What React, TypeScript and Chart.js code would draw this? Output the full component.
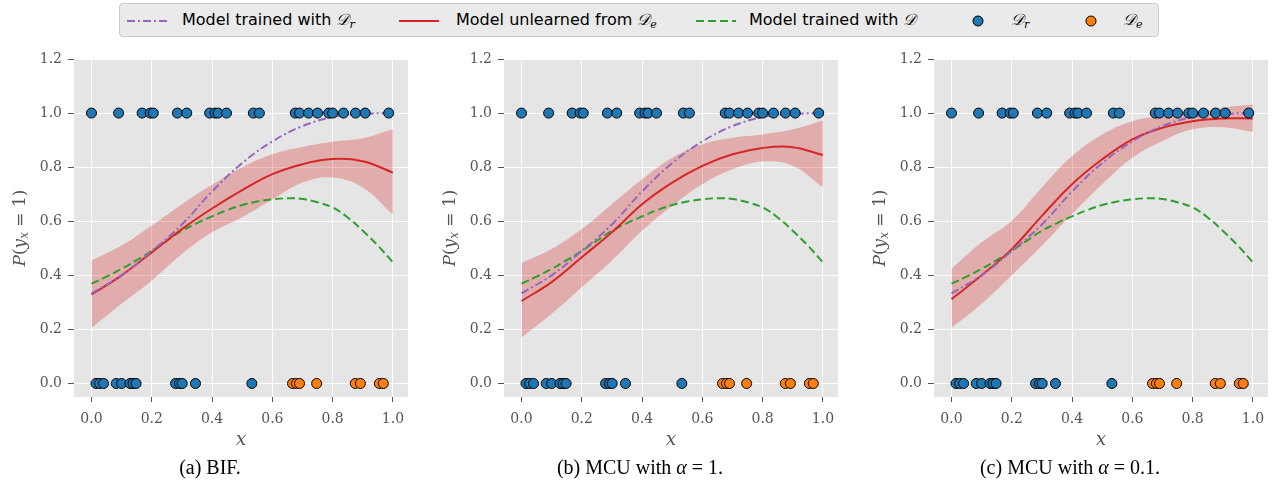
import React, { useEffect, useRef } from "react";
import { Chart, registerables } from "chart.js";

Chart.register(...registerables);

// ---- data ----
const xGrid = [0, 0.1, 0.2, 0.3, 0.4, 0.5, 0.6, 0.7, 0.8, 0.9, 1.0];
const xGridFine = [0, 0.05, 0.1, 0.15, 0.2, 0.25, 0.3, 0.35, 0.4, 0.45, 0.5, 0.55, 0.6, 0.65, 0.7, 0.75, 0.8, 0.85, 0.9, 0.95, 1.0];
const trainedDr = [0.333, 0.4, 0.49, 0.588, 0.71, 0.815, 0.895, 0.952, 0.985, 0.997, 1.0];
const trainedD = [0.369, 0.395, 0.424, 0.456, 0.49, 0.528, 0.565, 0.593, 0.618, 0.641, 0.66, 0.673, 0.681, 0.685, 0.682, 0.67, 0.651, 0.614, 0.565, 0.51, 0.448];

const unlearnBIF = [0.329, 0.4, 0.485, 0.571, 0.647, 0.715, 0.774, 0.811, 0.83, 0.822, 0.78];
const upperBIF = [0.455, 0.51, 0.584, 0.663, 0.735, 0.8, 0.848, 0.875, 0.894, 0.907, 0.94];
const lowerBIF = [0.206, 0.295, 0.381, 0.479, 0.559, 0.615, 0.68, 0.743, 0.762, 0.725, 0.624];

const unlearnMCU1 = [0.305, 0.375, 0.467, 0.559, 0.663, 0.743, 0.805, 0.848, 0.871, 0.874, 0.845];
const upperMCU1 = [0.445, 0.497, 0.571, 0.663, 0.755, 0.835, 0.885, 0.909, 0.921, 0.94, 0.973];
const lowerMCU1 = [0.17, 0.258, 0.356, 0.455, 0.565, 0.657, 0.737, 0.792, 0.821, 0.805, 0.725];

const unlearnMCU01 = [0.312, 0.4, 0.497, 0.62, 0.737, 0.829, 0.903, 0.946, 0.97, 0.98, 0.98];
const upperMCU01 = [0.424, 0.522, 0.602, 0.725, 0.841, 0.921, 0.97, 0.989, 1.001, 1.02, 1.032];
const lowerMCU01 = [0.206, 0.295, 0.4, 0.51, 0.627, 0.737, 0.835, 0.897, 0.94, 0.948, 0.931];

const drOnesX = [0.0, 0.09, 0.168, 0.195, 0.205, 0.285, 0.316, 0.392, 0.41, 0.42, 0.448, 0.537, 0.557, 0.676, 0.69, 0.72, 0.75, 0.787, 0.8, 0.836, 0.876, 0.908, 0.986];
const drZerosX = [0.015, 0.027, 0.04, 0.082, 0.1, 0.128, 0.138, 0.148, 0.279, 0.292, 0.301, 0.345, 0.532];
const deZerosX = [0.667, 0.68, 0.69, 0.747, 0.875, 0.892, 0.955, 0.968];

const xTicks = [0, 0.2, 0.4, 0.6, 0.8, 1.0];
const yTicks = [0, 0.2, 0.4, 0.6, 0.8, 1.0, 1.2];

const captions = ["(a) BIF.", "(b) MCU with ", "(c) MCU with "];
const alphaValues = ["", "1", "0.1"];

const panels = [
  { unlearn: unlearnBIF, upper: upperBIF, lower: lowerBIF },
  { unlearn: unlearnMCU1, upper: upperMCU1, lower: lowerMCU1 },
  { unlearn: unlearnMCU01, upper: upperMCU01, lower: lowerMCU01 },
];

const PURPLE = "#9467bd";
const RED = "#d62728";
const GREEN = "#2ca02c";
const BLUE = "#1f77b4";
const ORANGE = "#ff7f0e";

const pts = (xs: number[], ys: number[]) => xs.map((x, i) => ({ x, y: ys[i] }));
const constPts = (xs: number[], y: number) => xs.map((x) => ({ x, y }));

const bgPlugin = {
  id: "bgArea",
  beforeDraw(chart: any) {
    const { ctx, chartArea } = chart;
    ctx.save();
    ctx.fillStyle = "#e5e5e5";
    ctx.fillRect(chartArea.left, chartArea.top, chartArea.right - chartArea.left, chartArea.bottom - chartArea.top);
    ctx.restore();
  },
};

// y-axis label "P(y_x = 1)" with mixed italic / upright pieces
const yLabelPieces = [
  { t: "P", it: true, sub: false },
  { t: "(", it: false, sub: false },
  { t: "y", it: true, sub: false },
  { t: "x", it: true, sub: true },
  { t: " = ", it: false, sub: false },
  { t: "1", it: false, sub: false },
  { t: ")", it: false, sub: false },
];

const yLabelPlugin = {
  id: "yLabel",
  afterDraw(chart: any) {
    const { ctx, chartArea } = chart;
    const fontFor = (p: any) => `${p.it ? "italic " : ""}${p.sub ? 12 : 17}px "DejaVu Serif"`;
    ctx.save();
    let total = 0;
    const widths = yLabelPieces.map((p) => {
      ctx.font = fontFor(p);
      const w = ctx.measureText(p.t).width;
      total += w;
      return w;
    });
    const cy = (chartArea.top + chartArea.bottom) / 2;
    ctx.translate(20, cy);
    ctx.rotate(-Math.PI / 2);
    ctx.fillStyle = "#555555";
    ctx.textBaseline = "alphabetic";
    ctx.textAlign = "left";
    let x = -total / 2;
    yLabelPieces.forEach((p, i) => {
      ctx.font = fontFor(p);
      ctx.fillText(p.t, x, p.sub ? 8 : 5);
      x += widths[i];
    });
    ctx.restore();
  },
};

const CW = 414;
const CH = 420;

function Panel({ idx }: { idx: number }) {
  const ref = useRef<HTMLCanvasElement>(null);
  useEffect(() => {
    const p = panels[idx];
    const lineBase = { showLine: true, pointRadius: 0, tension: 0.4, fill: false };
    const pointBase = { pointRadius: 5, pointBorderColor: "#000", pointBorderWidth: 1 };
    const chart = new Chart(ref.current!, {
      type: "scatter",
      data: {
        datasets: [
          {
            data: pts(xGrid, p.upper),
            ...lineBase,
            borderWidth: 0,
            borderColor: "rgba(0,0,0,0)",
            order: 10,
          },
          {
            data: pts(xGrid, p.lower),
            ...lineBase,
            borderWidth: 0,
            borderColor: "rgba(0,0,0,0)",
            backgroundColor: "rgba(214,39,40,0.3)",
            fill: "-1",
            order: 9,
          },
          { data: pts(xGridFine, trainedD), ...lineBase, borderColor: GREEN, borderWidth: 2, borderDash: [8, 4], order: 5 },
          { data: pts(xGrid, p.unlearn), ...lineBase, borderColor: RED, borderWidth: 2, order: 4 },
          { data: pts(xGrid, trainedDr), ...lineBase, borderColor: PURPLE, borderWidth: 2, borderDash: [8, 3, 2, 3], order: 3 },
          { data: constPts(drOnesX, 1), ...pointBase, pointBackgroundColor: BLUE, order: 1 },
          { data: constPts(drZerosX, 0), ...pointBase, pointBackgroundColor: BLUE, order: 1 },
          { data: constPts(deZerosX, 0), ...pointBase, pointBackgroundColor: ORANGE, order: 0 },
        ],
      },
      options: {
        animation: false,
        responsive: false,
        devicePixelRatio: 1,
        layout: { padding: { left: 0, right: CW - 408, top: 19, bottom: 0 } },
        plugins: { legend: { display: false }, tooltip: { enabled: false } },
        scales: {
          x: {
            type: "linear",
            min: -0.058,
            max: 1.05,
            afterBuildTicks: (s: any) => {
              s.ticks = xTicks.map((v) => ({ value: v }));
            },
            afterFit: (s: any) => {
              s.height = CH - 357;
            },
            grid: { color: "#ffffff", lineWidth: 1, tickColor: "#555555", tickLength: 5, drawTicks: true },
            border: { display: false },
            ticks: {
              padding: 9,
              color: "#555555",
              font: { family: "DejaVu Serif", size: 14 },
              callback: (v: any) => Number(v).toFixed(1),
              maxRotation: 0,
            },
            title: {
              display: true,
              text: "x",
              color: "#555555",
              font: { family: "DejaVu Serif", size: 18, style: "italic" },
              padding: { top: 0, bottom: 9 },
            },
          },
          y: {
            type: "linear",
            min: -0.05,
            max: 1.2,
            afterBuildTicks: (s: any) => {
              s.ticks = yTicks.map((v) => ({ value: v }));
            },
            afterFit: (s: any) => {
              s.width = 74;
            },
            grid: { color: "#ffffff", lineWidth: 1, tickColor: "#555555", tickLength: 6, drawTicks: true },
            border: { display: false },
            ticks: {
              padding: 6,
              color: "#555555",
              font: { family: "DejaVu Serif", size: 14 },
              callback: (v: any) => Number(v).toFixed(1),
            },
            title: { display: false },
          },
        },
      },
      plugins: [bgPlugin, yLabelPlugin],
    });
    return () => chart.destroy();
  }, [idx]);
  return (
    <canvas
      ref={ref}
      width={CW}
      height={CH}
      style={{ position: "absolute", left: idx * 430, top: 40, width: CW, height: CH }}
    />
  );
}

function LegendLine({ color, dash }: { color: string; dash?: string }) {
  return (
    <svg width={40} height={10} style={{ position: "absolute", top: 12 }}>
      <line x1={0} y1={5} x2={40} y2={5} stroke={color} strokeWidth={2} strokeDasharray={dash} />
    </svg>
  );
}

function LegendDot({ color }: { color: string }) {
  return (
    <svg width={12} height={12} style={{ position: "absolute", top: 11 }}>
      <circle cx={6} cy={6} r={5} fill={color} stroke="#000" strokeWidth={1} />
    </svg>
  );
}

const D = () => <span style={{ fontFamily: "DejaVu Serif", fontStyle: "italic" }}>𝒟</span>;
const Sub = ({ t }: { t: string }) => (
  <sub style={{ fontFamily: "DejaVu Serif", fontStyle: "italic", fontSize: 11, verticalAlign: "-3px" }}>{t}</sub>
);

export default function App() {
  const legendFont: React.CSSProperties = {
    position: "absolute",
    top: 6,
    fontFamily: "DejaVu Sans",
    fontSize: 16,
    color: "#000",
    whiteSpace: "nowrap",
    lineHeight: "20px",
  };
  return (
    <div style={{ position: "absolute", left: 0, top: 0, width: 1274, height: 487, background: "#fff" }}>
      <div
        style={{
          position: "absolute",
          left: 119,
          top: 3,
          width: 1038,
          height: 32,
          background: "#eaeaea",
          border: "1px solid #cccccc",
          borderRadius: 4,
        }}
      >
        <div style={{ position: "absolute", left: 7 }}>
          <LegendLine color={PURPLE} dash="8 3 2 3" />
        </div>
        <div style={{ ...legendFont, left: 62 }}>
          Model trained with <D />
          <Sub t="r" />
        </div>
        <div style={{ position: "absolute", left: 279 }}>
          <LegendLine color={RED} />
        </div>
        <div style={{ ...legendFont, left: 336 }}>
          Model unlearned from <D />
          <Sub t="e" />
        </div>
        <div style={{ position: "absolute", left: 576 }}>
          <LegendLine color={GREEN} dash="8 4" />
        </div>
        <div style={{ ...legendFont, left: 629 }}>
          Model trained with <D />
        </div>
        <div style={{ position: "absolute", left: 852 }}>
          <LegendDot color={BLUE} />
        </div>
        <div style={{ ...legendFont, left: 891 }}>
          <D />
          <Sub t="r" />
        </div>
        <div style={{ position: "absolute", left: 965 }}>
          <LegendDot color={ORANGE} />
        </div>
        <div style={{ ...legendFont, left: 1003 }}>
          <D />
          <Sub t="e" />
        </div>
      </div>
      {[0, 1, 2].map((i) => (
        <Panel key={i} idx={i} />
      ))}
      {[0, 1, 2].map((i) => (
        <div
          key={"c" + i}
          style={{
            position: "absolute",
            left: i * 430,
            width: 420,
            top: 456,
            textAlign: "center",
            fontFamily: "Liberation Serif",
            fontSize: 20,
            color: "#000",
            whiteSpace: "nowrap",
          }}
        >
          {captions[i]}
          {alphaValues[i] !== "" && (
            <>
              <span style={{ fontStyle: "italic" }}>α</span> = {alphaValues[i]}.
            </>
          )}
        </div>
      ))}
    </div>
  );
}
